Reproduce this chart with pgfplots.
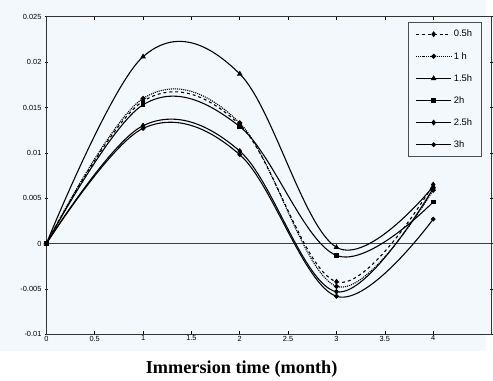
\documentclass[border=0pt]{standalone}
\usepackage{fontspec}
\setmainfont{Liberation Serif}
\setsansfont{Liberation Sans}
\usepackage{pgfplots}
\pgfplotsset{compat=1.18}
\definecolor{bgtint}{HTML}{F3F8FC}
\begin{document}
\begin{tikzpicture}[x=1pt,y=1pt]
\fill[bgtint] (0,29) rectangle (493,385);
\path (0,0) rectangle (493,385);
\begin{axis}[
  at={(47pt,46pt)}, anchor=south west,
  scale only axis, width=451pt, height=322pt,
  xmin=0, xmax=4.6, ymin=-0.01, ymax=0.025,
  axis background/.style={fill=bgtint},
  scaled y ticks=false, scaled x ticks=false,
  xtick={0,0.5,1,1.5,2,2.5,3,3.5,4},
  xticklabels={0,0.5,1,1.5,2,2.5,3,3.5,4},
  ytick={-0.01,-0.005,0,0.005,0.01,0.015,0.02,0.025},
  yticklabels={-0.01,-0.005,0,0.005,0.01,0.015,0.02,0.025},
  x tick label style={font=\sffamily\fontsize{7.5}{7.5}\selectfont, yshift=2pt},
  y tick label style={font=\sffamily\fontsize{7.5}{7.5}\selectfont},
  xtick align=inside, ytick align=center,
  major tick length=3pt,
  tick style={black, line width=0.6pt},
  axis line style={black!80, line width=1.2pt},
  clip=false,
  legend cell align=left,
  legend style={at={(0.978,0.984)}, anchor=north east, draw=black!70, line width=0.8pt,
    font=\sffamily\fontsize{9.5}{9.5}\selectfont, fill=bgtint,
    row sep=10pt, inner xsep=7pt, inner ysep=6pt},
  legend image code/.code={
    \draw[mark repeat=2,mark phase=2,#1] plot coordinates {(0pt,0pt) (18pt,0pt) (36pt,0pt)};
  },
  every axis plot/.append style={black, line width=1.1pt, mark size=2.2pt, smooth, tension=0.6},
]
\addplot[black!75, line width=0.8pt, forget plot, sharp plot] coordinates {(0,0) (4.6,0)};
\addplot[dashed, mark=diamond*, mark options={solid}] coordinates {(0,0) (1,0.0157) (2,0.0131) (3,-0.0042) (4,0.0065)};
\addlegendentry{0.5h}
\addplot[densely dotted, mark=*, mark options={solid}, mark size=2pt] coordinates {(0,0) (1,0.0160) (2,0.0133) (3,-0.0047) (4,0.0059)};
\addlegendentry{1 h}
\addplot[mark=triangle*] coordinates {(0,0) (1,0.0206) (2,0.0187) (3,-0.0004) (4,0.0063)};
\addlegendentry{1.5h}
\addplot[mark=square*, mark size=1.8pt] coordinates {(0,0) (1,0.0153) (2,0.0129) (3,-0.0013) (4,0.0046)};
\addlegendentry{2h}
\addplot[mark=diamond*] coordinates {(0,0) (1,0.0130) (2,0.0102) (3,-0.0053) (4,0.0061)};
\addlegendentry{2.5h}
\addplot[mark=*, mark size=1.8pt] coordinates {(0,0) (1,0.0127) (2,0.0098) (3,-0.0058) (4,0.0027)};
\addlegendentry{3h}
\end{axis}
\node[font=\bfseries\fontsize{18.5}{19}\selectfont] at (245,11) {Immersion time (month)};
\end{tikzpicture}
\end{document}
